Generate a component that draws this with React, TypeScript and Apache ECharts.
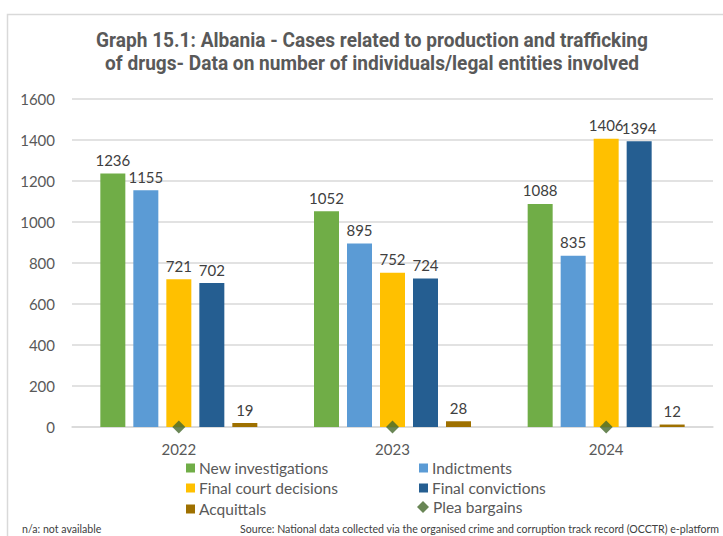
import React, { useEffect, useRef } from "react";
import * as echarts from "echarts";

const years = ["2022", "2023", "2024"];
const newInvestigations = [1236, 1052, 1088];
const indictments = [1155, 895, 835];
const finalCourtDecisions = [721, 752, 1406];
const finalConvictions = [702, 724, 1394];
const acquittals = [19, 28, 12];
const pleaBargains = [0, 0, 0];
const yTicks = { min: 0, max: 1600, interval: 200 };

const FONT = "Lato";
const TXT = "#595959";

export default function App() {
  const ref = useRef<HTMLDivElement>(null);
  useEffect(() => {
    if (!ref.current) return;
    const chart = echarts.init(ref.current, undefined, { renderer: "svg" });
    const barLabel = {
      show: true,
      position: "top",
      distance: 6,
      color: "#404040",
      fontFamily: FONT,
      fontSize: 15,
    };
    const mkBar = (name: string, data: number[], color: string) => ({
      name,
      type: "bar",
      data,
      barWidth: 25,
      barGap: "32%",
      itemStyle: { color },
      label: barLabel,
    });
    const legendItem = (name: string, left: number, top: number, icon: string, size = 9) => ({
      data: [{ name, icon }],
      left,
      top,
      itemWidth: size,
      itemHeight: size,
      itemGap: 0,
      padding: 0,
      textStyle: { color: TXT, fontFamily: FONT, fontSize: 15.5, padding: [0, 0, 0, -1] },
      selectedMode: false,
    });
    chart.setOption({
      animation: false,
      backgroundColor: "#ffffff",
      textStyle: { fontFamily: FONT },
      graphic: [
        {
          type: "rect",
          shape: { x: 7.5, y: 14.5, width: 760, height: 560 },
          style: { fill: "none", stroke: "#d9d9d9", lineWidth: 1.5 },
          silent: true,
        },
        {
          type: "text",
          x: 372,
          y: 29,
          scaleX: 0.955,
          style: {
            text: "Graph 15.1: Albania - Cases related to production and trafficking\nof drugs- Data on number of individuals/legal entities involved",
            fill: TXT,
            font: "bold 20px Roboto",
            textAlign: "center",
            lineHeight: 23,
          },
        },
        {
          type: "text",
          x: 22,
          y: 523,
          style: { text: "n/a: not available", fill: "#404040", font: "10.6px Lato" },
        },
        {
          type: "text",
          x: 240,
          y: 523,
          style: {
            text: "Source: National data collected via the organised crime and corruption track record (OCCTR) e-platform",
            fill: "#404040",
            font: "10.6px Lato",
          },
        },
      ],
      legend: [
        legendItem("New investigations", 186, 460, "rect"),
        legendItem("Indictments", 419, 460, "rect"),
        legendItem("Final court decisions", 186, 480, "rect"),
        legendItem("Final convictions", 419, 480, "rect"),
        legendItem("Acquittals", 186, 501, "rect"),
        legendItem("Plea bargains", 417, 499, "diamond", 12),
      ],
      grid: { left: 72, right: 10, top: 99, bottom: 109 },
      xAxis: {
        type: "category",
        data: years,
        axisLine: { lineStyle: { color: "#d9d9d9", width: 1.5 } },
        axisTick: { show: false },
        axisLabel: { color: TXT, fontFamily: FONT, fontSize: 15, margin: 14 },
      },
      yAxis: {
        type: "value",
        min: yTicks.min,
        max: yTicks.max,
        interval: yTicks.interval,
        axisLine: { show: false },
        axisTick: { show: false },
        splitLine: { lineStyle: { color: "#d9d9d9", width: 1.5 } },
        axisLabel: {
          color: TXT,
          fontFamily: FONT,
          fontSize: 15,
          margin: 17,
          formatter: (v: number) => String(v),
        },
      },
      series: [
        mkBar("New investigations", newInvestigations, "#70ad47"),
        mkBar("Indictments", indictments, "#5b9bd5"),
        mkBar("Final court decisions", finalCourtDecisions, "#ffc000"),
        mkBar("Final convictions", finalConvictions, "#255e91"),
        mkBar("Acquittals", acquittals, "#9e7000"),
        {
          name: "Plea bargains",
          type: "scatter",
          data: pleaBargains,
          symbol: "diamond",
          symbolSize: 13,
          itemStyle: { color: "#43682b" },
          z: 5,
        },
      ],
    });
    return () => chart.dispose();
  }, []);
  return <div ref={ref} style={{ width: 723, height: 536, position: "absolute", left: 0, top: 0 }} />;
}
